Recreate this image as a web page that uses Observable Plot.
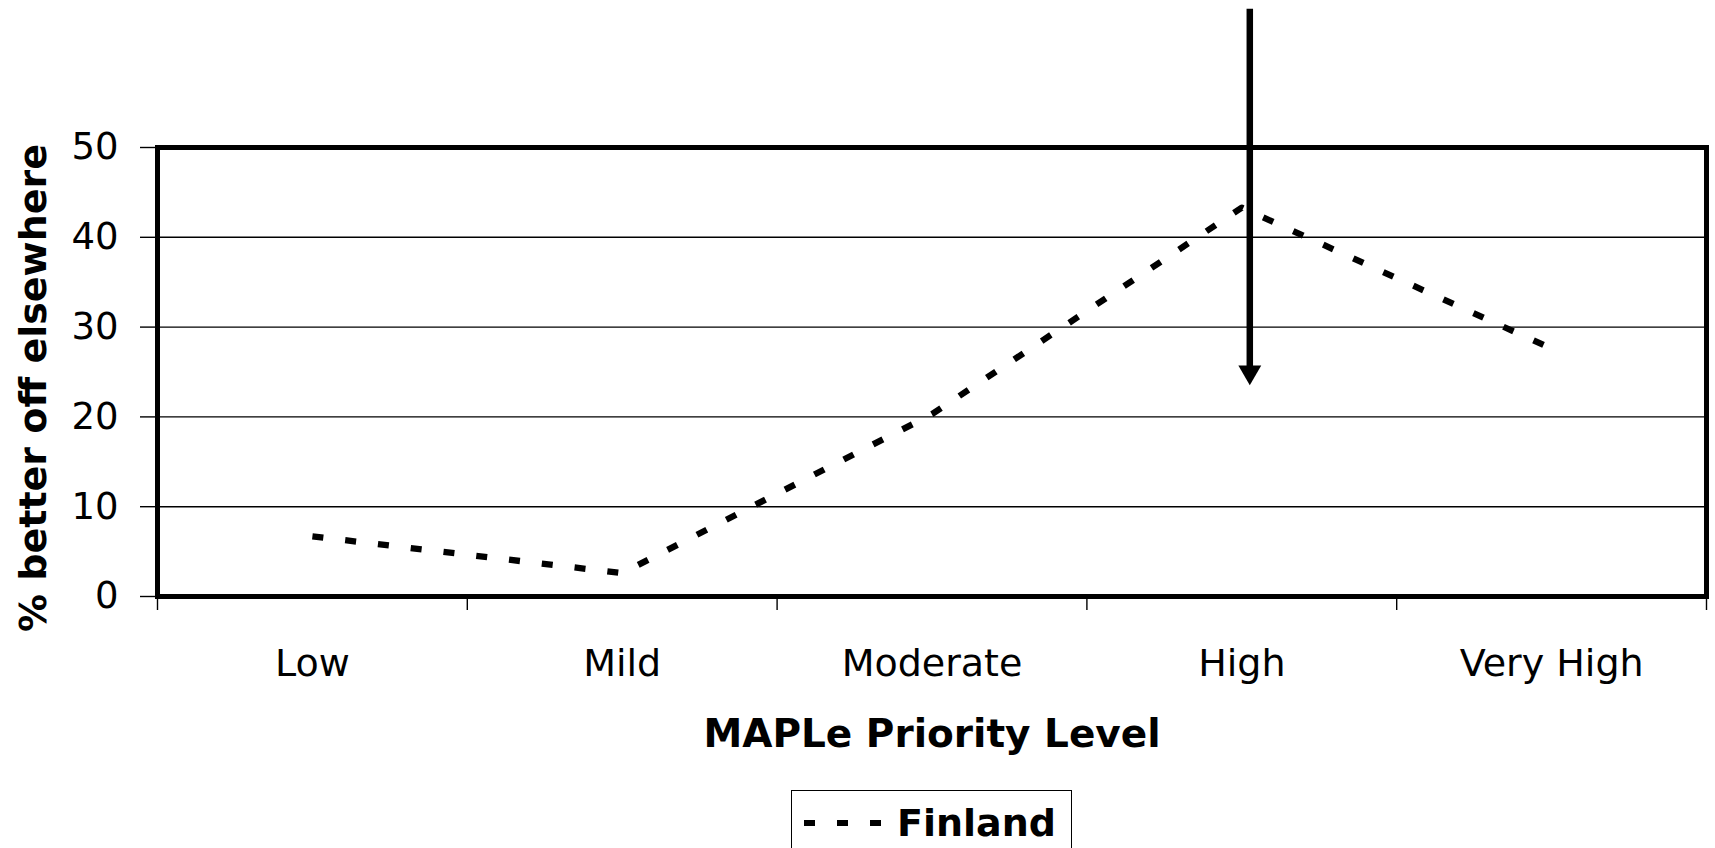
<!DOCTYPE html>
<html>
<head>
<meta charset="utf-8">
<script src="https://cdn.jsdelivr.net/npm/d3@7"></script>
<script src="https://cdn.jsdelivr.net/npm/@observablehq/plot@0.6"></script>
<style>
  html, body { margin: 0; padding: 0; background: #fff; }
  #wrap { position: relative; width: 1715px; height: 848px; overflow: hidden; font-family: "DejaVu Sans", sans-serif; }
  #legend { position: absolute; left: 791px; top: 790px; width: 281px; height: 66px; box-sizing: border-box;
            border: 1.5px solid #000; display: flex; align-items: center; background: #fff; }
  #legend svg { margin-left: 12px; }
  #legend span { font-weight: bold; font-size: 38px; margin-left: 16px; color: #000; }
</style>
</head>
<body>
<div id="wrap"><div id="chart"></div>
<div id="legend"></div>
</div>
<script>
// ---- data ----
const categories = ["Low", "Mild", "Moderate", "High", "Very High"];
const finland = [6.7, 2.6, 20.3, 43.3, 27.6];
const yTicks = [0, 10, 20, 30, 40, 50];
const seriesName = "Finland";
const yLabel = "% better off elsewhere";
const xLabel = "MAPLe Priority Level";
// annotation arrow pointing down at "High"
const arrowCategory = ["High"];
const arrowFrom = [65.4];
const arrowHead = [25];

const rows = categories.map((c, i) => ({cat: c, pos: i + 0.5, value: finland[i]}));
const arrows = arrowCategory.map((c, i) => ({pos: categories.indexOf(c) + 0.5, from: arrowFrom[i], head: arrowHead[i]}));
const dash = "11,22";

const chart = Plot.plot({
  width: 1715,
  height: 790,
  marginLeft: 157,
  marginRight: 9,
  marginTop: 147,
  marginBottom: 194,
  x: {domain: [0, categories.length]},
  y: {domain: [0, 50]},
  style: {fontFamily: "DejaVu Sans, sans-serif", color: "#000", background: "#fff"},
  marks: [
    Plot.gridY(yTicks, {stroke: "#000", strokeOpacity: 1, strokeWidth: 1.4}),
    Plot.axisY(yTicks, {tickSize: 17, tickPadding: 22, fontSize: 37, label: null, strokeWidth: 1.4}),
    Plot.axisX(d3.range(categories.length + 1), {tickSize: 14, tickFormat: () => "", label: null, strokeWidth: 1.4}),
    Plot.axisX(rows.map(d => d.pos), {tickSize: 0, tickPadding: 53, fontSize: 38, label: null,
      tickFormat: d => categories[Math.floor(d)]}),
    Plot.frame({stroke: "#000", strokeWidth: 5}),
    Plot.line(rows, {x: "pos", y: "value", stroke: "#000", strokeWidth: 6.3, strokeDasharray: dash, strokeLinecap: "butt"}),
    Plot.ruleX(arrows, {x: "pos", y1: "from", y2: "head", stroke: "#000", strokeWidth: 6.5, dx: 8}),
    Plot.dot(arrows, {x: "pos", y: "head", symbol: "triangle", r: 8.5, fill: "#000", stroke: "none", rotate: 180, dx: 8}),
    Plot.text([yLabel], {text: d => d, frameAnchor: "left", textAnchor: "middle", rotate: -90, dx: -124, dy: 16,
      fontSize: 38, fontWeight: "bold", fill: "#000"}),
    Plot.text([xLabel], {text: d => d, frameAnchor: "bottom", lineAnchor: "top", dy: 123,
      fontSize: 39, fontWeight: "bold", fill: "#000"})
  ]
});
document.getElementById("chart").appendChild(chart);

// legend
const lg = document.getElementById("legend");
lg.innerHTML = `<svg width="77" height="20"><line x1="0" x2="77" y1="10" y2="10" stroke="#000" stroke-width="6" stroke-dasharray="${dash}"/></svg><span>${seriesName}</span>`;
</script>
</body>
</html>
